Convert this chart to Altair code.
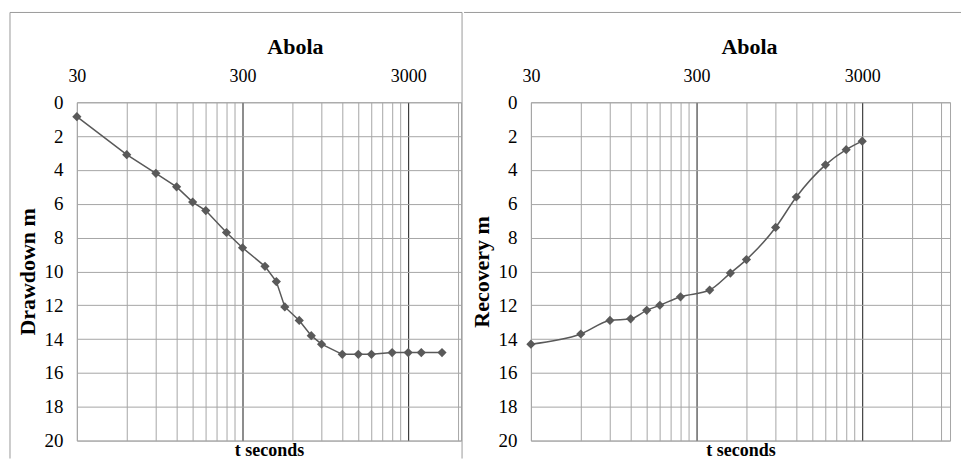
import altair as alt
import pandas as pd

# ---- text ----
chart_title = "Abola"
x_title = "t seconds"
y_title_left = "Drawdown m"
y_title_right = "Recovery m"

# ---- data (time in seconds, depth in m) ----
t_draw = [30, 60, 90, 120, 150, 180, 240, 300, 410, 480, 540, 660, 780, 900,
          1200, 1500, 1800, 2400, 3000, 3600, 4800]
drawdown = [0.85, 3.1, 4.2, 5.0, 5.9, 6.4, 7.7, 8.6, 9.7, 10.6, 12.1, 12.9, 13.8, 14.3,
            14.9, 14.9, 14.9, 14.8, 14.8, 14.8, 14.8]

t_rec = [30, 60, 90, 120, 150, 180, 240, 360, 480, 600, 900, 1200, 1800, 2400, 3000]
recovery = [14.3, 13.7, 12.9, 12.8, 12.3, 12.0, 11.5, 11.1, 10.1, 9.3, 7.4, 5.6, 3.7, 2.8, 2.3]

# ---- axis values ----
x_label_values = [30, 300, 3000]
x_major_grid = [300, 3000]
x_grid_left = [30, 60, 90, 120, 150, 180, 210, 240, 270, 300,
               600, 900, 1200, 1500, 1800, 2100, 2400, 2700, 3000, 6000]
x_grid_right = x_grid_left + [9000]
y_ticks = [0, 2, 4, 6, 8, 10, 12, 14, 16, 18, 20]

FONT = "Liberation Serif"
GRID = "#a6a6a6"
MAJOR = "#1a1a1a"
FRAME = "#9a9a9a"
MARK = "#595959"


def panel(t, v, ylab, width, xmax, grid_vals, interp, draw_left_edge, top_right):
    df = pd.DataFrame({"t": t, "v": v})
    xs = alt.Scale(type="log", domain=[30, xmax], nice=False)
    ys = alt.Scale(domain=[0, 20], reverse=True, nice=False)
    yenc = alt.Y(
        "v:Q", scale=ys,
        axis=alt.Axis(values=y_ticks, title=ylab, grid=True, gridColor=GRID, gridOpacity=1,
                      ticks=False, domain=False, labelPadding=14, labelFontSize=19,
                      labelFont=FONT, labelColor="black",
                      titleFont=FONT, titleColor="black",
                      titlePadding=4, titleFontSize=22, titleFontWeight="bold"),
    )
    base = alt.Chart(df)
    line = base.mark_line(color=MARK, strokeWidth=1.5, interpolate=interp).encode(
        x=alt.X("t:Q", scale=xs,
                axis=alt.Axis(orient="top", values=x_label_values, format="d", grid=False,
                              ticks=False, domain=False, labelPadding=21,
                              labelBaseline="alphabetic", labelFlush=False,
                              labelOverlap=False, labelFontSize=18, labelFont=FONT,
                              labelColor="black", title=None)),
        y=yenc,
    )
    cond = " || ".join(f"datum.value == {m}" for m in x_major_grid)
    pts = base.mark_point(shape="diamond", filled=True, size=85, color=MARK, opacity=1).encode(
        x=alt.X("t:Q", scale=xs,
                axis=alt.Axis(orient="bottom", values=grid_vals, labels=False, ticks=False,
                              domain=False, grid=True,
                              gridColor={"condition": {"test": cond, "value": MAJOR}, "value": GRID},
                              gridOpacity=1, title=x_title, titlePadding=15,
                              titleBaseline="alphabetic", titleFontSize=18,
                              titleFont=FONT, titleColor="black",
                              titleFontWeight="bold")),
        y=yenc,
    )
    one = pd.DataFrame({"label": [chart_title]})
    left_edge = alt.Chart(one).mark_rule(
        color=FRAME, strokeWidth=1, strokeOpacity=1 if draw_left_edge else 0
    ).encode(x=alt.value(-67), y=alt.value(-90), y2=alt.value(357))
    top_edge = alt.Chart(one).mark_rule(color=FRAME, strokeWidth=1).encode(
        x=alt.value(-67), x2=alt.value(top_right), y=alt.value(-90))
    layers = [left_edge, top_edge]
    if draw_left_edge:
        right_edge = alt.Chart(one).mark_rule(color=FRAME, strokeWidth=1).encode(
            x=alt.value(width + 1), y=alt.value(-90), y2=alt.value(357))
        layers.append(right_edge)
    title = alt.Chart(one).mark_text(
        font=FONT, fontSize=22, fontWeight="bold", baseline="alphabetic",
        align="center", color="black"
    ).encode(x=alt.value(219), y=alt.value(-48), text="label:N")
    layers += [line, pts, title]
    return alt.layer(*layers).resolve_axis(x="independent").properties(
        width=width, height=339)


left = panel(t_draw, drawdown, y_title_left, 385, 6255, x_grid_left, "linear", True, 386)
right = panel(t_rec, recovery, y_title_right, 420, 10165, x_grid_right, "monotone", False, 431)

chart = alt.hconcat(left, right, spacing=0).properties(
    padding={"left": 1, "top": 3, "right": 0, "bottom": 0},
    background="white",
).configure_view(stroke=GRID).configure_axis(
    labelFont=FONT, titleFont=FONT, labelColor="black", titleColor="black"
)

chart.save("out.html", embed_options={"renderer": "svg", "actions": False})
